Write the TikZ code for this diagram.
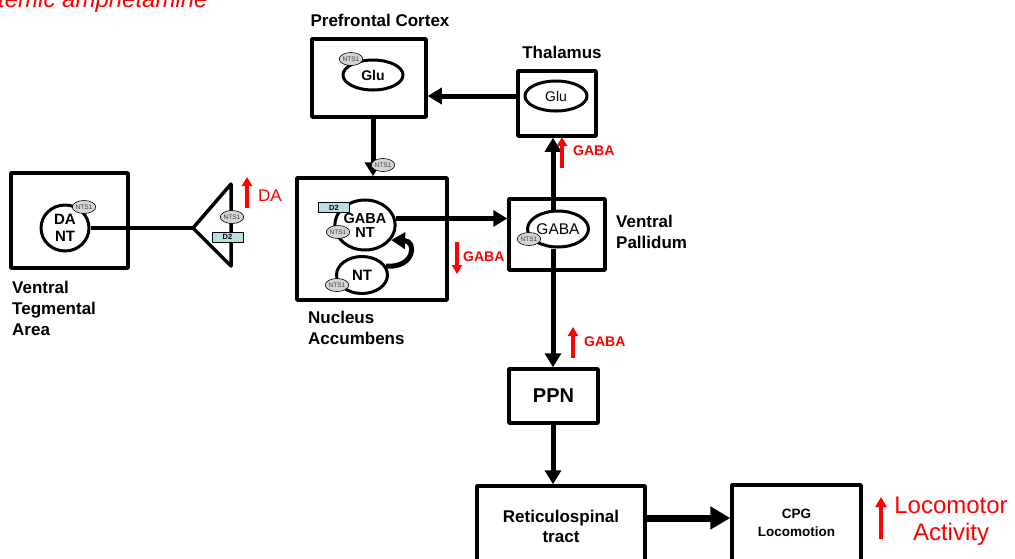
\documentclass[tikz,border=0pt]{standalone}
\usepackage{fontspec}
\setmainfont{Liberation Sans}
\usetikzlibrary{arrows.meta,positioning,shapes.geometric}
\definecolor{rgray}{RGB}{212,212,212}
\definecolor{dblue}{RGB}{184,222,222}
\begin{document}
\begin{tikzpicture}[x=1pt,y=-1pt, line join=round,
  region/.style={draw,line width=3.5pt,inner sep=0pt,align=center},
  cell/.style={draw,ellipse,line width=3pt,inner sep=0pt,align=center},
  rcpt/.style={draw,ellipse,fill=rgray,line width=0.6pt,minimum width=21pt,minimum height=13pt,inner sep=0pt,font=\fontsize{6.5}{6.5}\selectfont,text=black!75},
  dtwo/.style={draw,fill=dblue,line width=0.8pt,minimum width=31pt,minimum height=10pt,inner sep=0pt,font=\bfseries\fontsize{7.5}{8}\selectfont},
  lbl/.style={font=\bfseries\fontsize{17}{21}\selectfont,align=left,anchor=west,inner sep=0pt},
  flow/.style={line width=5pt,-{Triangle[length=14pt,width=16pt]}},
  up/.style={red,line width=3.5pt,-{Triangle[length=9pt,width=10pt]}},
  redtxt/.style={red,font=\bfseries\fontsize{14}{14}\selectfont,anchor=west,inner sep=0pt}]
\useasboundingbox (0,0) rectangle (1015,558);
\clip (0,0) rectangle (1015,558);
% title (cut by the frame)
\node[red,anchor=base west,inner sep=0pt,font=\itshape\fontsize{24}{24}\selectfont] (title) at (-42,7.5) {Systemic amphetamine};
% regions
\node[region,minimum width=117pt,minimum height=95pt] (vta) at (69.5,220.5) {};
\node[region,minimum width=114pt,minimum height=78pt] (pfc) at (369,78) {};
\node[region,minimum width=78pt,minimum height=65pt] (thal) at (557,103.5) {};
\node[region,minimum width=150pt,minimum height=122pt] (nacc) at (372,239) {};
\node[region,minimum width=96pt,minimum height=71pt] (vp) at (557,234.5) {};
\node[region,minimum width=89pt,minimum height=54pt,font=\bfseries\fontsize{20}{20}\selectfont] (ppn) at (553.5,396) {PPN};
\node[region,minimum width=168pt,minimum height=80pt,font=\bfseries\fontsize{17}{20}\selectfont] (ret) at (561,526) {Reticulospinal\\tract};
\node[region,minimum width=129pt,minimum height=76pt,font=\bfseries\fontsize{13.5}{18}\selectfont] (cpg) at (796.5,523) {CPG\\Locomotion};
% labels
\node[lbl,anchor=center,align=center] (pfclbl) at (380,20) {Prefrontal Cortex};
\node[lbl,anchor=center,align=center] (thallbl) at (562,52) {Thalamus};
\node[lbl] (vtalbl) at (12,308) {Ventral\\Tegmental\\Area};
\node[lbl] (nacclbl) at (308,328) {Nucleus\\Accumbens};
\node[lbl] (vplbl) at (616,232) {Ventral\\Pallidum};
% neurons
\node[cell,minimum width=48pt,minimum height=46pt,font=\bfseries\fontsize{15}{17}\selectfont] (dant) at (65,228) {DA\\NT};
\node[cell,minimum width=60pt,minimum height=30pt,font=\bfseries\fontsize{14}{14}\selectfont] (pfcglu) at (373,75) {Glu};
\node[cell,minimum width=62pt,minimum height=30pt,font=\fontsize{14}{14}\selectfont] (thalglu) at (556,96) {Glu};
\node[cell,minimum width=60pt,minimum height=50pt,font=\bfseries\fontsize{14.5}{14}\selectfont] (gabant) at (365,225) {GABA\\NT};
\node[cell,minimum width=51pt,minimum height=37pt,font=\bfseries\fontsize{15}{15}\selectfont] (nt) at (362,275) {NT};
\node[cell,minimum width=55pt,minimum height=36pt,font=\fontsize{15.5}{16}\selectfont] (vpgaba) at (558,229) {GABA};
% synapse terminal
\coordinate (syntip) at (193,228);
\draw[line width=3.5pt] (syntip) -- (231,184) -- (231,266) -- cycle;
\draw[line width=3.5pt] (dant.east) -- (syntip);
% connectors
\coordinate (colx) at (553,0);
\coordinate (rc) at (0,518);
\draw[flow] (thal.west |- thalglu) -- (pfc.east |- thalglu);
\draw[flow] (pfcglu |- pfc.south) -- (pfcglu |- nacc.north);
\draw[flow] (gabant.12) -- (gabant.12 -| vp.west);
\draw[flow] (vpgaba.north -| colx) -- (thal.south -| colx);
\draw[flow] (vpgaba.south -| colx) -- (ppn.north -| colx);
\draw[flow] (ppn.south -| colx) -- (ret.north -| colx);
\draw[line width=7pt,-{Triangle[length=20pt,width=22pt]}] (ret.east |- rc) -- (cpg.west |- rc);
\draw[line width=5pt,-{Triangle[length=14pt,width=16pt]}] (nt.20) .. controls (415,268) and (417,241) .. (gabant.-30);
% receptors
\node[rcpt] (r1) at (84,207) {NTS1};
\node[rcpt] (r2) at (232,217) {NTS1};
\node[rcpt] (r3) at (351,59) {NTS1};
\node[rcpt] (r4) at (383,165) {NTS1};
\node[rcpt] (r5) at (338,232) {NTS1};
\node[rcpt] (r6) at (337,285) {NTS1};
\node[rcpt] (r7) at (529,239) {NTS1};
\node[dtwo] (d1) at (227.5,237) {D2};
\node[dtwo] (d2) at (334,207.5) {D2};
% changes
\draw[up] (247,208) -- (247,177);
\node[red,anchor=west,inner sep=0pt,font=\fontsize{17}{17}\selectfont] (dalbl) at (258,196) {DA};
\draw[up] (457,242) -- (457,274);
\node[redtxt] (g1) at (463,257) {GABA};
\draw[up] (562,168) -- (562,137);
\node[redtxt] (g2) at (573,151) {GABA};
\draw[up] (573,358) -- (573,327);
\node[redtxt] (g3) at (584,342) {GABA};
\draw[red,line width=4pt,-{Triangle[length=10pt,width=11pt]}] (881,539) -- (881,497);
\node[red,align=center,inner sep=0pt,font=\fontsize{24}{27}\selectfont] (loco) at (951,521.5) {Locomotor\\Activity};
\end{tikzpicture}
\end{document}
